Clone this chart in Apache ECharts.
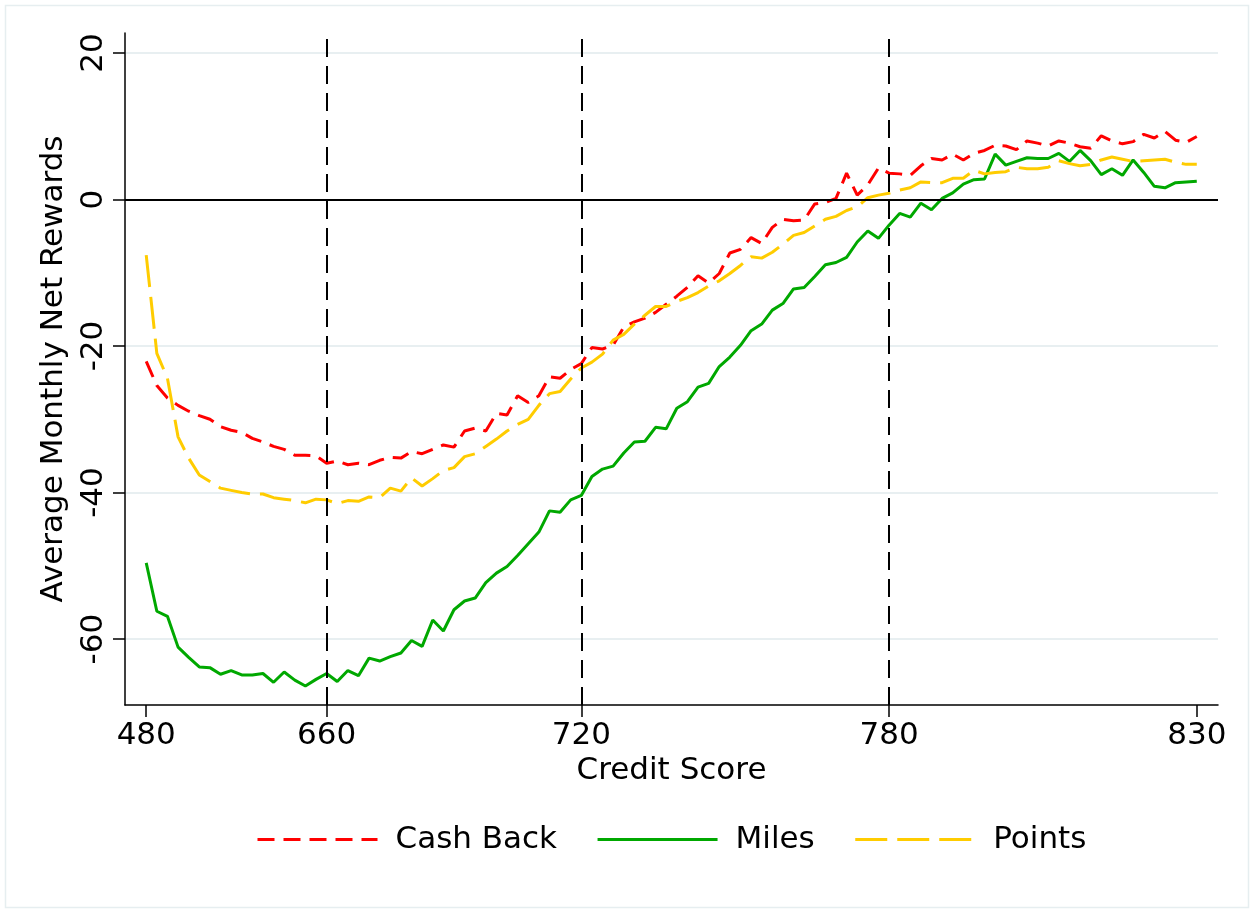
<!DOCTYPE html>
<html>
<head>
<meta charset="utf-8">
<script src="https://cdn.jsdelivr.net/npm/echarts@6/dist/echarts.min.js"></script>
<style>
html,body{margin:0;padding:0;background:#fff;}
#chart{width:1250px;height:909px;}
</style>
</head>
<body>
<div id="chart"></div>
<script>
// Credit-score bins (percentile bins 1..100); tick labels at selected bins
const xTickBins = [1, 18, 42, 71, 100];
const xTickLabels = ['480', '660', '720', '780', '830'];
const vLineBins = [18, 42, 71];
const yTicks = [-60, -40, -20, 0, 20];

const cashBack = [-22.1,-25.4,-27.1,-28.1,-28.9,-29.5,-30.0,-31.0,-31.5,-31.8,
  -32.6,-33.1,-33.7,-34.1,-34.9,-34.9,-35.0,-36.0,-35.7,-36.2,
  -36.0,-36.2,-35.6,-35.2,-35.3,-34.4,-34.7,-34.1,-33.5,-33.8,
  -31.6,-31.2,-31.6,-29.2,-29.4,-26.8,-27.7,-26.8,-24.2,-24.4,
  -23.2,-22.4,-20.2,-20.4,-19.9,-17.4,-16.7,-16.2,-15.4,-14.3,
  -13.2,-12.0,-10.4,-11.4,-10.1,-7.3,-6.8,-5.2,-6.0,-3.8,
  -2.7,-2.9,-2.8,-0.6,-0.4,0.15,3.6,0.6,2.0,4.3,
  3.6,3.5,3.3,4.6,5.6,5.4,6.2,5.4,6.3,6.7,
  7.4,7.3,6.8,8.0,7.7,7.3,8.0,7.7,7.2,7.0,
  8.7,8.0,7.6,7.9,8.9,8.4,9.3,8.1,7.8,8.6];

const miles = [-49.6,-56.2,-56.9,-61.1,-62.5,-63.8,-63.9,-64.8,-64.3,-64.9,
  -64.9,-64.7,-65.9,-64.5,-65.6,-66.4,-65.5,-64.7,-65.8,-64.3,
  -65.0,-62.6,-63.0,-62.4,-61.9,-60.2,-61.0,-57.4,-58.9,-56.0,
  -54.8,-54.4,-52.3,-51.0,-50.1,-48.6,-47.0,-45.4,-42.5,-42.7,
  -41.0,-40.4,-37.8,-36.8,-36.4,-34.6,-33.1,-33.0,-31.1,-31.3,
  -28.5,-27.6,-25.6,-25.1,-22.8,-21.5,-19.9,-17.9,-17.0,-15.1,
  -14.2,-12.2,-12.0,-10.5,-8.9,-8.6,-7.9,-5.8,-4.3,-5.3,
  -3.5,-1.9,-2.4,-0.5,-1.4,0.15,0.9,2.1,2.7,2.8,
  6.2,4.7,5.2,5.7,5.6,5.6,6.3,5.2,6.7,5.3,
  3.4,4.2,3.3,5.4,3.7,1.8,1.6,2.3,2.4,2.5];

const points = [-7.6,-21.0,-24.4,-32.4,-35.3,-37.6,-38.5,-39.4,-39.7,-40.0,
  -40.2,-40.2,-40.7,-40.9,-41.1,-41.4,-40.9,-41.0,-41.5,-41.1,
  -41.2,-40.6,-40.7,-39.4,-39.8,-38.0,-39.1,-38.1,-37.0,-36.6,
  -35.1,-34.7,-33.7,-32.7,-31.6,-30.7,-30.0,-28.1,-26.5,-26.2,
  -24.5,-23.0,-22.2,-21.1,-19.2,-18.4,-17.0,-15.8,-14.6,-14.6,
  -13.9,-13.4,-12.7,-11.8,-11.1,-10.1,-9.0,-7.8,-8.0,-7.2,
  -6.1,-4.9,-4.5,-3.6,-2.7,-2.3,-1.5,-1.0,0.25,0.6,
  0.85,1.3,1.6,2.4,2.3,2.3,2.9,2.9,4.0,3.5,
  3.7,3.8,4.4,4.2,4.2,4.4,5.3,4.9,4.6,4.8,
  5.4,5.8,5.5,5.2,5.3,5.4,5.5,5.1,4.8,4.8];

const FONT = 'DejaVu Sans';
const toXY = arr => arr.map((v, i) => [i + 1, v]);

const chart = echarts.init(document.getElementById('chart'), null, {renderer: 'canvas'});
chart.setOption({
  backgroundColor: '#ffffff',
  animation: false,
  textStyle: {fontFamily: FONT, color: '#000'},
  graphic: [{
    type: 'rect', left: 3, top: 3, silent: true,
    shape: {width: 1243, height: 902},
    style: {fill: 'none', stroke: '#e6eef0', lineWidth: 1.5}
  }],
  grid: {left: 125, right: 32, top: 33, bottom: 204, containLabel: false},
  legend: {
    data: ['Cash Back', 'Miles', 'Points'],
    top: 819, left: 251,
    itemWidth: 120, itemHeight: 20, itemGap: 39,
    itemStyle: {opacity: 0},
    lineStyle: {width: 3},
    textStyle: {fontFamily: FONT, fontSize: 31, color: '#000', padding: [0, 0, 0, 13]}
  },
  xAxis: {
    type: 'value', min: -1, max: 102,
    name: 'Credit Score', nameLocation: 'middle', nameGap: 50,
    nameTextStyle: {fontFamily: FONT, fontSize: 31, color: '#000'},
    axisLine: {show: true, onZero: false, lineStyle: {color: '#000', width: 1.5}},
    axisTick: {show: true, length: 12, customValues: xTickBins, lineStyle: {color: '#000', width: 1.5}},
    axisLabel: {
      show: true, margin: 15, fontFamily: FONT, fontSize: 31, color: '#000',
      customValues: xTickBins,
      formatter: v => xTickLabels[xTickBins.indexOf(v)] || ''
    },
    splitLine: {show: false}
  },
  yAxis: {
    type: 'value', min: -69, max: 22.73,
    name: 'Average Monthly Net Rewards', nameLocation: 'middle', nameGap: 56,
    nameTextStyle: {fontFamily: FONT, fontSize: 31, color: '#000'},
    axisLine: {show: true, onZero: false, lineStyle: {color: '#000', width: 1.5}},
    axisTick: {show: true, length: 12, customValues: yTicks, lineStyle: {color: '#000', width: 1.5}},
    axisLabel: {
      show: true, rotate: 90, margin: 16, fontFamily: FONT, fontSize: 31, color: '#000',
      customValues: yTicks
    },
    splitLine: {show: true, lineStyle: {color: '#e8eff1', width: 2}}
  },
  series: [
    {
      name: 'refLines', type: 'line', data: [], z: 1, silent: true,
      markLine: {
        silent: true, symbol: 'none', animation: false,
        label: {show: false},
        data: [
          ...vLineBins.map(b => ({xAxis: b, lineStyle: {color: '#000', width: 2, type: [18, 9]}})),
          {yAxis: 0, lineStyle: {color: '#000', width: 2, type: 'solid'}}
        ]
      }
    },
    {
      name: 'Cash Back', type: 'line', data: toXY(cashBack), z: 3,
      symbol: 'none', showSymbol: false,
      lineStyle: {color: '#ff0000', width: 3, type: [17, 9]},
      itemStyle: {color: '#ff0000'}
    },
    {
      name: 'Miles', type: 'line', data: toXY(miles), z: 3,
      symbol: 'none', showSymbol: false,
      lineStyle: {color: '#00a800', width: 3, type: 'solid'},
      itemStyle: {color: '#00a800'}
    },
    {
      name: 'Points', type: 'line', data: toXY(points), z: 3,
      symbol: 'none', showSymbol: false,
      lineStyle: {color: '#ffcc00', width: 3, type: [32, 10]},
      itemStyle: {color: '#ffcc00'}
    }
  ]
});
</script>
</body>
</html>
